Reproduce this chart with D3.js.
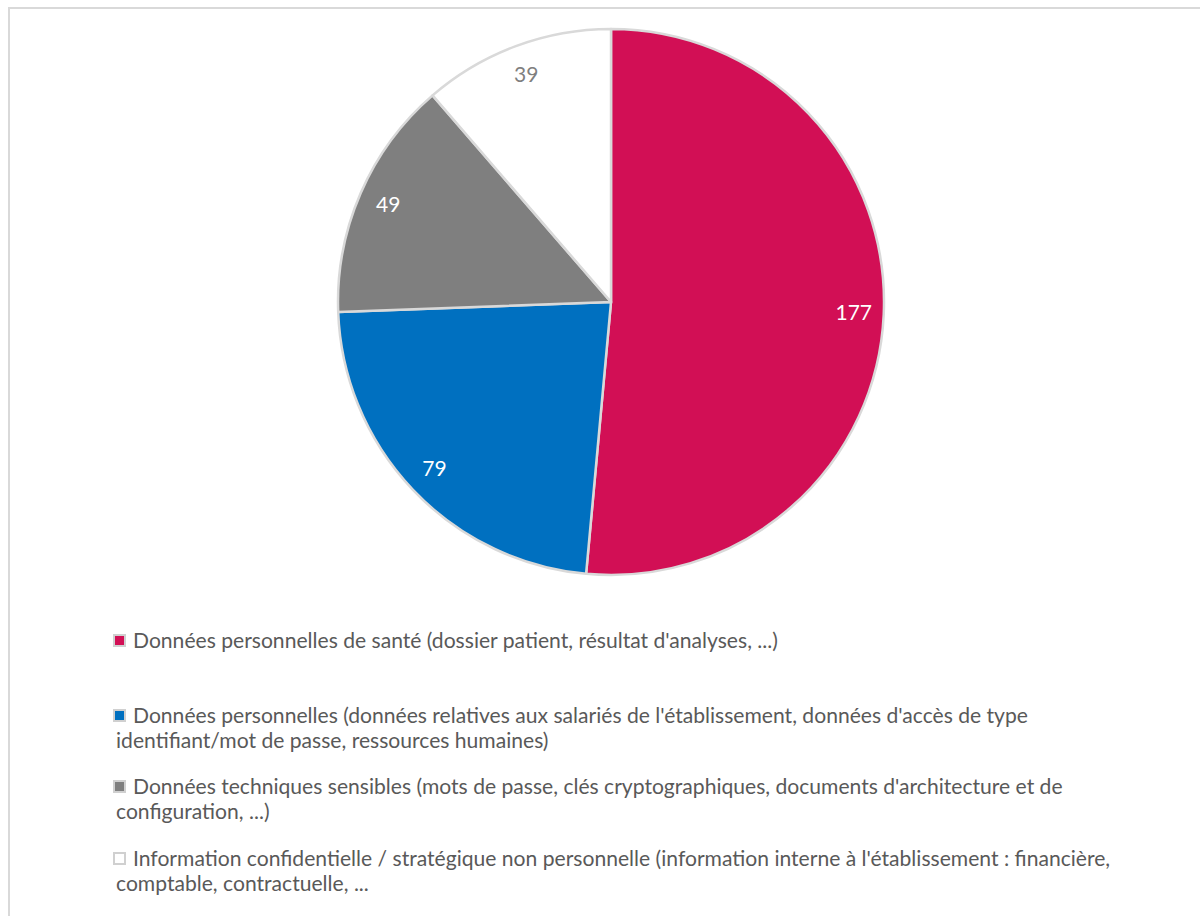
<!DOCTYPE html>
<html lang="fr">
<head>
<meta charset="utf-8">
<title>Pie</title>
<script src="https://d3js.org/d3.v7.min.js"></script>
<style>
  body { margin: 0; background: #fff; }
  text { font-family: Lato, "Open Sans", sans-serif; }
</style>
</head>
<body>
<div id="chart"></div>
<script>
var categories = [
  "Données personnelles de santé (dossier patient, résultat d'analyses, ...)",
  "Données personnelles (données relatives aux salariés de l'établissement, données d'accès de type|identifiant/mot de passe, ressources humaines)",
  "Données techniques sensibles (mots de passe, clés cryptographiques, documents d'architecture et de|configuration, ...)",
  "Information confidentielle / stratégique non personnelle (information interne à l'établissement : financière,|comptable, contractuelle, ..."
];
var values = [177, 79, 49, 39];
var colors = ["#d20f55", "#0070c0", "#7f7f7f", "#ffffff"];
var labelColors = ["#ffffff", "#ffffff", "#ffffff", "#7f7f7f"];

var width = 1200, height = 916;
var cx = 611, cy = 302, R = 273;

var svg = d3.select("#chart").append("svg")
  .attr("width", width)
  .attr("height", height);

// chart frame
svg.append("rect")
  .attr("x", 9).attr("y", 8)
  .attr("width", 1200).attr("height", 930)
  .attr("fill", "none")
  .attr("stroke", "#d9d9d9")
  .attr("stroke-width", 2);

var pie = d3.pie().sort(null).value(function(d) { return d; });
var arc = d3.arc().innerRadius(0).outerRadius(R);
var labelArc = d3.arc().innerRadius(R * 0.89).outerRadius(R * 0.89);
var arcs = pie(values);

var g = svg.append("g").attr("transform", "translate(" + cx + "," + cy + ")");

g.selectAll("path")
  .data(arcs)
  .enter().append("path")
  .attr("d", arc)
  .attr("fill", function(d, i) { return colors[i]; })
  .attr("stroke", "#d9d9d9")
  .attr("stroke-width", 2.5)
  .attr("stroke-linejoin", "round");

g.selectAll("text.lbl")
  .data(arcs)
  .enter().append("text")
  .attr("class", "lbl")
  .attr("transform", function(d) {
    var c = labelArc.centroid(d);
    return "translate(" + c[0] + "," + c[1] + ")";
  })
  .attr("text-anchor", "middle")
  .attr("dy", "0.35em")
  .attr("font-size", 21)
  .attr("fill", function(d, i) { return labelColors[i]; })
  .text(function(d) { return d.data; });

// legend
var legendY = [641, 716, 787, 859];
var lg = svg.append("g");
categories.forEach(function(c, i) {
  var y = legendY[i];
  lg.append("rect")
    .attr("x", 114).attr("y", y - 6)
    .attr("width", 11).attr("height", 11)
    .attr("fill", colors[i])
    .attr("stroke", "#d0d0d0")
    .attr("stroke-width", 2);
  var t = lg.append("text")
    .attr("font-size", 21.1)
    .attr("fill", "#595959");
  c.split("|").forEach(function(line, j) {
    t.append("tspan")
      .attr("x", j === 0 ? 133 : 116)
      .attr("y", y + j * 25)
      .attr("dy", "0.35em")
      .text(line);
  });
});
</script>
</body>
</html>
